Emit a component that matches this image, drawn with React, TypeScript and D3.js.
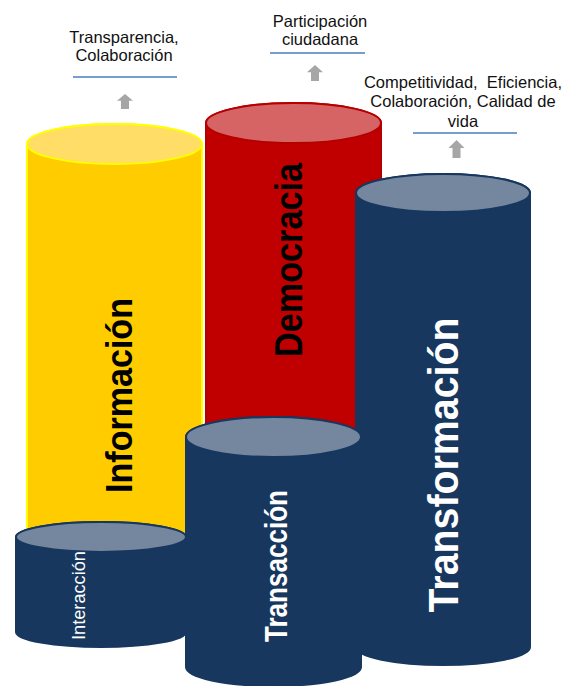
import React from "react";
import * as d3 from "d3";

// ---- data ----
const stages = ["Interacción", "Información", "Transacción", "Democracia", "Transformación"];
const centerX = [101, 114.5, 273.5, 293.5, 443];
const halfWidth = [85, 87.5, 87.5, 87.5, 87];
const topLevel = [149, 542, 249, 563, 493];
const baseLevel = [54, 86, 19, 126, 39];
const capDepth = [15, 20, 20, 20, 19];
const bottomDepth = [15, 20, 19, 20, 18];
const drawOrder = [1, 3, 4, 0, 2];

const labelSize = [19, 37, 30.5, 39, 43];
const labelLength = [89, 195, 152, 194, 295];
const labelBaselineOffset = [-16.5, 17.5, 13.5, 8.5, 15];
const labelCenterLevel = [90.5, 290.5, 120, 426, 221];
const labelBold = [false, true, true, true, true];

const benefitLines = [
  ["Transparencia,", "Colaboración"],
  ["Participación", "ciudadana"],
  ["Competitividad,  Eficiencia,", "Colaboración, Calidad de", "vida"],
];
const benefitCenter = [124, 320, 463];
const benefitFirstLevel = [643.5, 659.5, 598];
const benefitSpacing = [18.5, 18.5, 19.3];
const ruleLevel = [609, 633, 553];
const ruleFrom = [73, 270, 413];
const ruleTo = [177, 365, 517];
const arrowX = [125, 315, 456.5];
const arrowTipLevel = [592, 621, 546];
const arrowTailLevel = [577, 605, 528];

const W = 567;
const H = 686;
const x = d3.scaleLinear().domain([0, W]).range([0, W]);
const y = d3.scaleLinear().domain([0, H]).range([H, 0]);

const palette = [
  { body: "#17375E", top: "#75869F", stroke: "#17375E", text: "#FFFFFF" },
  { body: "#FFCC00", top: "#FFDD66", stroke: "#FFFF00", text: "#000000" },
  { body: "#17375E", top: "#75869F", stroke: "#17375E", text: "#FFFFFF" },
  { body: "#C00000", top: "#D66464", stroke: "#B40000", text: "#000000" },
  { body: "#17375E", top: "#75869F", stroke: "#17375E", text: "#FFFFFF" },
];

const FONT = "'Liberation Sans', Arial, Helvetica, sans-serif";

function bodyPath(i: number) {
  const cx = x(centerX[i]);
  const rx = halfWidth[i];
  const ty = y(topLevel[i]);
  const by = y(baseLevel[i]);
  const ry = capDepth[i];
  const bry = bottomDepth[i];
  return (
    `M${cx - rx},${ty} L${cx - rx},${by} ` +
    `A${rx},${bry} 0 0 0 ${cx + rx},${by} L${cx + rx},${ty} ` +
    `A${rx},${ry} 0 0 0 ${cx - rx},${ty} Z`
  );
}

function Cylinder({ i }: { i: number }) {
  const c = palette[i];
  const cx = x(centerX[i]);
  const ty = y(topLevel[i]);
  const lx = cx + labelBaselineOffset[i];
  const ly = y(labelCenterLevel[i]);
  return (
    <g>
      <path d={bodyPath(i)} fill={c.body} stroke={c.stroke} strokeWidth={2} />
      <ellipse cx={cx} cy={ty} rx={halfWidth[i]} ry={capDepth[i]} fill={c.top} stroke={c.stroke} strokeWidth={2} />
      <text
        transform={`translate(${lx},${ly}) rotate(-90)`}
        textAnchor="middle"
        fontFamily={FONT}
        fontSize={labelSize[i]}
        fontWeight={labelBold[i] ? "bold" : "normal"}
        fill={c.text}
        textLength={labelLength[i]}
        lengthAdjust="spacingAndGlyphs"
      >
        {stages[i]}
      </text>
    </g>
  );
}

function Arrow({ k }: { k: number }) {
  const cx = x(arrowX[k]);
  const tip = y(arrowTipLevel[k]);
  const tail = y(arrowTailLevel[k]);
  const headH = (tail - tip) * 0.45;
  const pts: [number, number][] = [
    [cx, tip],
    [cx + 8, tip + headH],
    [cx + 4, tip + headH],
    [cx + 4, tail],
    [cx - 4, tail],
    [cx - 4, tip + headH],
    [cx - 8, tip + headH],
  ];
  const line = d3.line();
  return <path d={line(pts) + "Z"} fill="#A6A6A6" />;
}

export default function App() {
  return (
    <svg
      width={W}
      height={H}
      style={{ position: "absolute", left: 0, top: 0, background: "#fff" }}
    >
      <rect width={W} height={H} fill="#fff" />
      {drawOrder.map((i) => (
        <Cylinder key={i} i={i} />
      ))}
      {benefitLines.map((lines, k) => (
        <g key={k}>
          <text
            fontFamily={FONT}
            fontSize={16.5}
            fill="#111"
            textAnchor="middle"
            style={{ whiteSpace: "pre" }}
          >
            {lines.map((t, j) => (
              <tspan key={j} x={x(benefitCenter[k])} y={y(benefitFirstLevel[k]) + j * benefitSpacing[k]}>
                {t}
              </tspan>
            ))}
          </text>
          <line
            x1={x(ruleFrom[k])}
            x2={x(ruleTo[k])}
            y1={y(ruleLevel[k])}
            y2={y(ruleLevel[k])}
            stroke="#4A7EBB"
            strokeWidth={1.5}
          />
          <Arrow k={k} />
        </g>
      ))}
    </svg>
  );
}
